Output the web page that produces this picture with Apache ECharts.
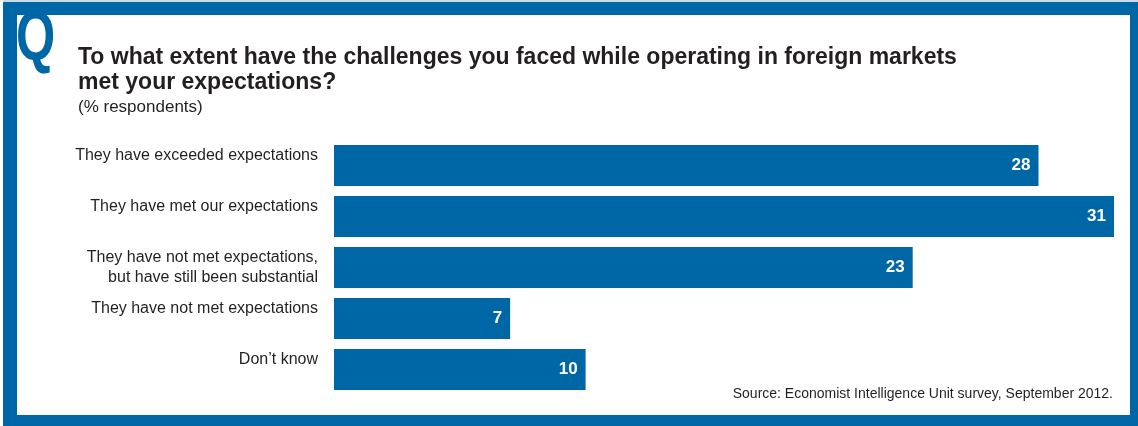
<!DOCTYPE html>
<html>
<head>
<meta charset="utf-8">
<script src="https://cdn.jsdelivr.net/npm/echarts@6/dist/echarts.min.js"></script>
<style>
html,body{margin:0;padding:0;background:#fff;}
#chart{width:1138px;height:426px;}
</style>
</head>
<body>
<div id="chart"></div>
<script>
const categories = [
  "They have exceeded expectations",
  "They have met our expectations",
  "They have not met expectations,\nbut have still been substantial",
  "They have not met expectations",
  "Don\u2019t know"
];
const values = [28, 31, 23, 7, 10];
const titleText = "To what extent have the challenges you faced while operating in foreign markets\nmet your expectations?";
const subtitleText = "(% respondents)";
const sourceText = "Source: Economist Intelligence Unit survey, September 2012.";

const FONT = "'Liberation Sans', Arial, sans-serif";
const BLUE = "#0067a6";
const INK = "#231f20";

const chart = echarts.init(document.getElementById('chart'), null, {renderer: 'canvas'});
chart.setOption({
  backgroundColor: '#ffffff',
  animation: false,
  title: [
    {
      text: titleText, left: 78, top: 45, padding: 0,
      textStyle: {fontFamily: FONT, fontSize: 23, fontWeight: 'bold', color: INK, lineHeight: 25}
    },
    {
      text: subtitleText, left: 78, top: 97, padding: 0,
      textStyle: {fontFamily: FONT, fontSize: 17, fontWeight: 'normal', color: INK, lineHeight: 20}
    },
    {
      text: sourceText, right: 25, top: 386, padding: 0,
      textStyle: {fontFamily: FONT, fontSize: 14, fontWeight: 'normal', color: INK, lineHeight: 16}
    }
  ],
  graphic: [
    {type: 'text', left: 16, top: 6, z: 1, scaleX: 0.72,
      style: {text: 'Q', font: "bold 70px 'Liberation Sans', Arial, sans-serif", fill: BLUE}},
    {type: 'rect', shape: {x: 3, y: 0, width: 1135, height: 2}, style: {fill: '#c9dbe9'}, z: 5},
    {type: 'rect', shape: {x: 3, y: 2, width: 1135, height: 13}, style: {fill: BLUE}, z: 5},
    {type: 'rect', shape: {x: 3, y: 2, width: 14, height: 424}, style: {fill: BLUE}, z: 5},
    {type: 'rect', shape: {x: 1130, y: 2, width: 8, height: 424}, style: {fill: BLUE}, z: 5},
    {type: 'rect', shape: {x: 3, y: 415, width: 1135, height: 11}, style: {fill: BLUE}, z: 5}
  ],
  grid: {left: 334, top: 140, width: 780, height: 255, containLabel: false},
  xAxis: {
    type: 'value', min: 0, max: 31, show: false
  },
  yAxis: {
    type: 'category', data: categories, inverse: true,
    axisLine: {show: false}, axisTick: {show: false}, splitLine: {show: false},
    axisLabel: {
      margin: 16, align: 'right', verticalAlign: 'middle',
      fontFamily: FONT, fontSize: 16, lineHeight: 20, color: INK,
      padding: [0, 0, 0, 0],
      formatter: function (v) { return v.indexOf('\n') >= 0 ? v : v + '\n '; }
    }
  },
  series: [{
    type: 'bar', data: values, barCategoryGap: '20%',
    itemStyle: {color: BLUE},
    label: {
      show: true, position: 'insideRight', distance: 8,
      fontFamily: FONT, fontSize: 17, fontWeight: 'bold', color: '#ffffff'
    }
  }]
});
</script>
</body>
</html>
